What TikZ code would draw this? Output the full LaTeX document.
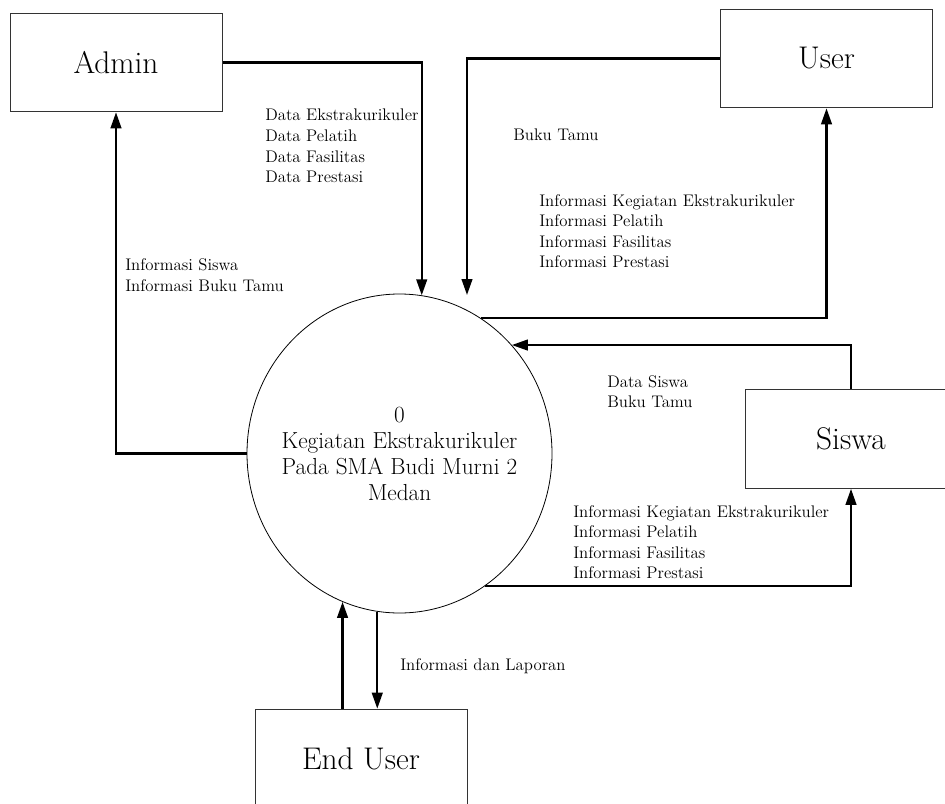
\documentclass[tikz,border=0pt]{standalone}
\usepackage{tikz}
\usetikzlibrary{arrows.meta, shapes.geometric, calc}

\begin{document}
\begin{tikzpicture}[x=0.75pt,y=-0.75pt,>={Triangle[length=12pt,width=8pt]},
  entity/.style={draw=black!80,line width=.75pt,minimum width=159pt,minimum height=74pt,inner sep=0pt,font=\fontsize{23.5}{27}\selectfont},
  process/.style={draw,ellipse,line width=.6pt,minimum width=228.75pt,minimum height=239.25pt,inner ysep=0pt,inner xsep=-14pt,align=center,font=\fontsize{17.4}{19.5}\selectfont},
  flow/.style={->,line width=1.6pt},
  lbl/.style={anchor=west,align=left,inner sep=0pt,font=\fontsize{12.6}{15.4}\selectfont}]
\useasboundingbox (0,0) rectangle (945,803);
\clip (0,0) rectangle (945,803);
\draw node [process] (P0) at (399.5,453.5) {0\\Kegiatan Ekstrakurikuler\\Pada SMA Budi Murni 2\\Medan};
\draw node [entity] (Admin)   at (116,62.5)  {Admin};
\draw node [entity] (User)    at (826.5,58.5) {User};
\draw node [entity] (Siswa)   at (851,439)   {Siswa};
\draw node [entity] (EndUser) at (361,758.5) {End User};
\coordinate (Uin) at (467,295);
\draw [flow] (Admin.east) -| (P0.82.6);
\draw [flow] (User.west) -| (Uin);
\draw [flow] (P0.59.3) -| (User.south);
\draw [flow] (Siswa.north) |- (P0.44.1);
\draw [flow] (P0.303.9) -| (Siswa.south);
\draw [flow] (P0.west) -| (Admin.south);
\draw [flow] (P0.249.9 |- EndUser.north) -- (P0.249.9);
\draw [flow] (P0.262.2) -- (P0.262.2 |- EndUser.north);
\node [lbl] (lAdminIn)  at (265,146) {Data Ekstrakurikuler\\Data Pelatih\\Data Fasilitas\\Data Prestasi};
\node [lbl] (lAdminOut) at (125,275) {Informasi Siswa\\Informasi Buku Tamu};
\node [lbl] (lUserIn)   at (513,135) {Buku Tamu};
\node [lbl] (lUserOut)  at (539,231) {Informasi Kegiatan Ekstrakurikuler\\Informasi Pelatih\\Informasi Fasilitas\\Informasi Prestasi};
\node [lbl] (lSiswaIn)  at (607,391.5) {Data Siswa\\Buku Tamu};
\node [lbl] (lSiswaOut) at (573,542) {Informasi Kegiatan Ekstrakurikuler\\Informasi Pelatih\\Informasi Fasilitas\\Informasi Prestasi};
\node [lbl] (lEndUser)  at (400,666) {Informasi dan Laporan};
\end{tikzpicture}
\end{document}
